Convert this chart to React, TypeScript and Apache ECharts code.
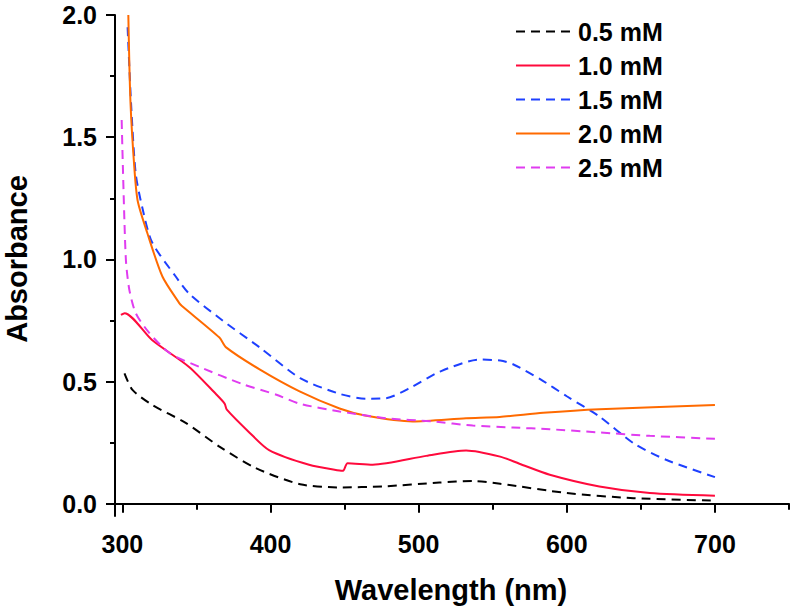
import React, { useEffect, useRef } from "react";
import * as echarts from "echarts";

const seriesNames = ["0.5 mM", "1.0 mM", "1.5 mM", "2.0 mM", "2.5 mM"];

const wl05 = [301.4, 306.8, 320, 343, 365.5, 390, 420, 446.6, 476, 514, 536.5, 555, 600, 645, 700];
const abs05 = [0.534, 0.466, 0.405, 0.33, 0.234, 0.146, 0.08, 0.067, 0.071, 0.087, 0.093, 0.082, 0.044, 0.023, 0.013];

const wl10 = [299, 301.5, 320, 345, 363, 369, 370.5, 386, 399, 426, 446.6, 449, 452, 469, 505, 532, 555, 568, 588.5, 622, 656, 700];
const abs10 = [0.773, 0.78, 0.67, 0.56, 0.45, 0.41, 0.385, 0.29, 0.22, 0.16, 0.136, 0.135, 0.166, 0.16, 0.196, 0.218, 0.193, 0.164, 0.119, 0.071, 0.044, 0.033];

const wl15 = [303.5, 306, 309, 313.5, 320, 336, 345, 367.6, 392.6, 420, 446.6, 464.6, 478, 496, 514, 541, 555, 564, 582, 600, 622, 645, 667, 700];
const abs15 = [1.95, 1.62, 1.35, 1.21, 1.07, 0.93, 0.86, 0.75, 0.64, 0.514, 0.45, 0.43, 0.432, 0.48, 0.54, 0.59, 0.586, 0.57, 0.51, 0.44, 0.357, 0.248, 0.18, 0.109];

const wl20 = [304, 305.4, 308, 310.3, 316.7, 327, 338.5, 340, 365.5, 370, 392.6, 419.6, 446.6, 464.6, 496, 532, 554.7, 584, 622, 700];
const abs20 = [2.0, 1.65, 1.38, 1.24, 1.11, 0.93, 0.82, 0.81, 0.68, 0.64, 0.55, 0.46, 0.39, 0.36, 0.337, 0.35, 0.355, 0.372, 0.387, 0.404];

const wl25 = [299.5, 300, 301.4, 302.5, 304.7, 309, 318, 332, 352, 381, 404, 420, 446.6, 478, 509.5, 536.5, 563.5, 588.5, 622, 656, 700];
const abs25 = [1.57, 1.45, 1.15, 0.985, 0.875, 0.78, 0.7, 0.616, 0.56, 0.49, 0.446, 0.409, 0.378, 0.35, 0.337, 0.32, 0.312, 0.305, 0.292, 0.278, 0.266];

const xMajorTicks = [300, 400, 500, 600, 700];
const xMinorTicks = [350, 450, 550, 650, 750];
const yMajorTicks = [0, 0.5, 1.0, 1.5, 2.0];
const yMinorTicks = [0.25, 0.75, 1.25, 1.75];

const FONT = "Arial, 'Liberation Sans', sans-serif";

const pair = (xs: number[], ys: number[]) => xs.map((x, i) => [x, ys[i]]);

export default function App() {
  const ref = useRef<HTMLDivElement>(null);
  useEffect(() => {
    if (!ref.current) return;
    const chart = echarts.init(ref.current, undefined, { renderer: "svg" });
    const axisLineStyle = { color: "#000", width: 2 };
    const mkSeries = (
      name: string,
      xs: number[],
      ys: number[],
      color: string,
      dashed: boolean
    ) => ({
      name,
      type: "line",
      data: pair(xs, ys),
      symbol: "none",
      showSymbol: false,
      smooth: 0.25,
      lineStyle: { color, width: 2, type: dashed ? [9, 6] : "solid" },
      itemStyle: { color },
      xAxisIndex: 0,
      yAxisIndex: 0,
    });
    chart.setOption({
      animation: false,
      backgroundColor: "#fff",
      grid: { left: 115, right: 4, top: 15, bottom: 96, containLabel: false },
      xAxis: [
        {
          type: "value",
          min: 295,
          max: 750,
          position: "bottom",
          splitLine: { show: false },
          axisLine: { show: true, lineStyle: axisLineStyle },
          axisTick: { show: true, inside: false, length: 9, lineStyle: { width: 2, color: "#000" }, customValues: xMajorTicks },
          axisLabel: {
            show: true,
            customValues: xMajorTicks,
            margin: 15,
            color: "#000",
            fontSize: 25,
            fontWeight: "bold",
            fontFamily: FONT,
          },
        },
        {
          type: "value",
          min: 295,
          max: 750,
          position: "bottom",
          offset: 0,
          splitLine: { show: false },
          axisLine: { show: false },
          axisTick: { show: true, inside: false, length: 6, lineStyle: { width: 2, color: "#000" }, customValues: xMinorTicks },
          axisLabel: { show: false },
        },
      ],
      yAxis: [
        {
          type: "value",
          min: -0.05,
          max: 2.0,
          position: "left",
          splitLine: { show: false },
          axisLine: { show: true, lineStyle: axisLineStyle },
          axisTick: { show: true, inside: false, length: 9, lineStyle: { width: 2, color: "#000" }, customValues: yMajorTicks },
          axisLabel: {
            show: true,
            customValues: yMajorTicks,
            formatter: (v: number) => v.toFixed(1),
            margin: 18,
            color: "#000",
            fontSize: 25,
            fontWeight: "bold",
            fontFamily: FONT,
          },
        },
        {
          type: "value",
          min: -0.05,
          max: 2.0,
          position: "left",
          offset: 0,
          splitLine: { show: false },
          axisLine: { show: false },
          axisTick: { show: true, inside: false, length: 5, lineStyle: { width: 2, color: "#000" }, customValues: yMinorTicks },
          axisLabel: { show: false },
        },
      ],
      legend: {
        orient: "vertical",
        left: 515,
        top: 19,
        padding: 0,
        itemWidth: 54,
        itemHeight: 14,
        itemGap: 9,
        data: seriesNames,
        itemStyle: { color: "rgba(0,0,0,0)", borderWidth: 0, opacity: 0 },
        textStyle: {
          color: "#000",
          fontSize: 25,
          fontWeight: "bold",
          fontFamily: FONT,
          lineHeight: 25,
          padding: [0, 0, 0, 3],
        },
      },
      graphic: [
        {
          type: "text",
          x: 17,
          y: 259,
          rotation: Math.PI / 2,
          style: {
            text: "Absorbance",
            fontSize: 29,
            fontWeight: "bold",
            fontFamily: FONT,
            fill: "#000",
            align: "center",
            verticalAlign: "middle",
          },
        },
        {
          type: "text",
          x: 451,
          y: 590,
          style: {
            text: "Wavelength (nm)",
            fontSize: 29,
            fontWeight: "bold",
            fontFamily: FONT,
            fill: "#000",
            align: "center",
            verticalAlign: "middle",
          },
        },
      ],
      series: [
        mkSeries(seriesNames[0], wl05, abs05, "#000000", true),
        mkSeries(seriesNames[1], wl10, abs10, "#ff0a3c", false),
        mkSeries(seriesNames[2], wl15, abs15, "#1e40ff", true),
        mkSeries(seriesNames[3], wl20, abs20, "#ff6a00", false),
        mkSeries(seriesNames[4], wl25, abs25, "#e03cf0", true),
      ],
    });
    return () => chart.dispose();
  }, []);
  return (
    <div
      ref={ref}
      style={{ position: "fixed", left: 0, top: 0, width: 793, height: 612, background: "#fff" }}
    />
  );
}
